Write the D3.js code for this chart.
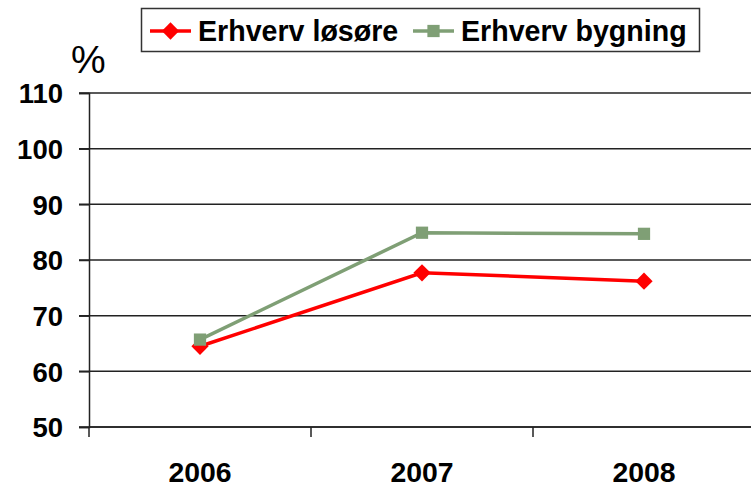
<!DOCTYPE html>
<html>
<head>
<meta charset="utf-8">
<script src="https://cdn.jsdelivr.net/npm/d3@7"></script>
<style>
  body { margin: 0; background: #fff; }
  svg { display: block; font-family: "Liberation Sans", Arial, sans-serif; }
</style>
</head>
<body>
<div id="chart"></div>
<script>
// data
var years = ['2006', '2007', '2008'];
var losore = [64.5, 77.7, 76.2];
var bygning = [65.7, 84.9, 84.7];
var yTicks = [50, 60, 70, 80, 90, 100, 110];
var seriesNames = ['Erhverv løsøre', 'Erhverv bygning'];

var fullWidth = 751, fullHeight = 489;
var margin = { top: 93, left: 89, bottom: 62 };
var plotRight = 755;

var svg = d3.select('#chart').append('svg')
    .attr('width', fullWidth)
    .attr('height', fullHeight);

var x = d3.scaleBand()
    .domain(years)
    .range([margin.left, plotRight]);

var y = d3.scaleLinear()
    .domain([50, 110])
    .range([fullHeight - margin.bottom, margin.top]);

// gridlines
svg.append('g')
    .selectAll('line')
    .data(yTicks)
    .enter().append('line')
    .attr('x1', margin.left - 10)
    .attr('x2', plotRight)
    .attr('y1', function (d) { return y(d); })
    .attr('y2', function (d) { return y(d); })
    .attr('stroke', '#222')
    .attr('stroke-width', 1.5);

// y axis
var yAxis = d3.axisLeft(y).tickValues(yTicks).tickSize(10).tickPadding(16);
var yAxisEle = svg.append('g')
    .attr('transform', 'translate(' + margin.left + ',0)')
    .call(yAxis);
yAxisEle.select('.domain').attr('stroke', '#222').attr('stroke-width', 1.5);
yAxisEle.selectAll('.tick line').attr('stroke', '#222').attr('stroke-width', 1.5);
yAxisEle.selectAll('text')
    .attr('fill', '#000')
    .style('font-size', '27.5px')
    .style('font-weight', 'bold')
    .attr('dy', '0.36em');

// x axis with ticks on band edges
var xAxisEle = svg.append('g')
    .attr('transform', 'translate(0,' + y(50) + ')');
xAxisEle.append('line')
    .attr('x1', margin.left).attr('x2', plotRight)
    .attr('stroke', '#222').attr('stroke-width', 1.5);
xAxisEle.selectAll('line.edge')
    .data(years.concat(['end']))
    .enter().append('line')
    .attr('class', 'edge')
    .attr('x1', function (d, i) { return margin.left + i * x.bandwidth(); })
    .attr('x2', function (d, i) { return margin.left + i * x.bandwidth(); })
    .attr('y1', 0).attr('y2', 10)
    .attr('stroke', '#222').attr('stroke-width', 1.5);
xAxisEle.selectAll('text')
    .data(years)
    .enter().append('text')
    .attr('x', function (d) { return x(d) + x.bandwidth() / 2; })
    .attr('y', 55)
    .attr('text-anchor', 'middle')
    .style('font-size', '28.4px')
    .style('font-weight', 'bold')
    .text(function (d) { return d; });

// unit label
svg.append('text')
    .attr('x', 71)
    .attr('y', 73)
    .style('font-size', '39px')
    .text('%');

var line = d3.line()
    .x(function (d, i) { return x(years[i]) + x.bandwidth() / 2; })
    .y(function (d) { return y(d); });

var diamond = d3.symbol().type(d3.symbolDiamond2).size(190);
var square = d3.symbol().type(d3.symbolSquare).size(150);

// red series
svg.append('path')
    .datum(losore)
    .attr('d', line)
    .attr('fill', 'none')
    .attr('stroke', '#ff0000')
    .attr('stroke-width', 3.5);
svg.selectAll('path.dia')
    .data(losore)
    .enter().append('path')
    .attr('class', 'dia')
    .attr('transform', function (d, i) {
        return 'translate(' + (x(years[i]) + x.bandwidth() / 2) + ',' + y(d) + ')';
    })
    .attr('d', diamond)
    .attr('fill', '#ff0000');

// green series
svg.append('path')
    .datum(bygning)
    .attr('d', line)
    .attr('fill', 'none')
    .attr('stroke', '#7f9f75')
    .attr('stroke-width', 3.5);
svg.selectAll('path.sq')
    .data(bygning)
    .enter().append('path')
    .attr('class', 'sq')
    .attr('transform', function (d, i) {
        return 'translate(' + (x(years[i]) + x.bandwidth() / 2) + ',' + y(d) + ')';
    })
    .attr('d', square)
    .attr('fill', '#7f9f75');

// legend
var legend = svg.append('g');
legend.append('rect')
    .attr('x', 141.5).attr('y', 8.5)
    .attr('width', 558).attr('height', 43)
    .attr('fill', '#fff')
    .attr('stroke', '#333')
    .attr('stroke-width', 1.5);

var legendItems = [
    { name: seriesNames[0], color: '#ff0000', sym: diamond, x: 150 },
    { name: seriesNames[1], color: '#7f9f75', sym: square, x: 413 }
];
legendItems.forEach(function (it) {
    legend.append('line')
        .attr('x1', it.x).attr('x2', it.x + 41)
        .attr('y1', 31).attr('y2', 31)
        .attr('stroke', it.color).attr('stroke-width', 3.5);
    legend.append('path')
        .attr('transform', 'translate(' + (it.x + 20.5) + ',31)')
        .attr('d', it.sym)
        .attr('fill', it.color);
    legend.append('text')
        .attr('x', it.x + 48)
        .attr('y', 41)
        .style('font-size', '28.6px')
        .style('font-weight', 'bold')
        .text(it.name);
});
</script>
</body>
</html>
